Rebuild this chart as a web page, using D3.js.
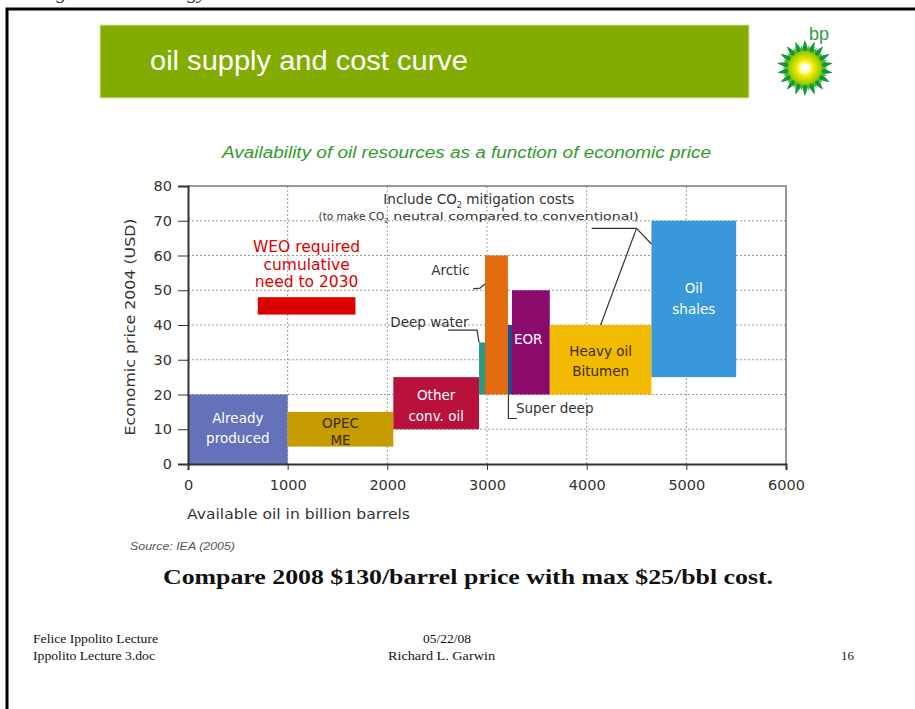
<!DOCTYPE html>
<html>
<head>
<meta charset="utf-8">
<script src="https://cdn.jsdelivr.net/npm/d3@7"></script>
<style>
  body { margin: 0; background: #fff; }
  svg { display: block; }
</style>
</head>
<body>
<div id="chart"></div>
<script>
// data
let categories = ["Already produced", "OPEC ME", "Other conv. oil", "Deep water", "Arctic", "Super deep", "EOR", "Heavy oil Bitumen", "Oil shales", "WEO required"];
let xStart = [0, 1000, 2060, 2920, 2980, 3210, 3250, 3630, 4650, 700];
let xEnd   = [1000, 2060, 2920, 2980, 3210, 3260, 3630, 4650, 5500, 1680];
let yLow   = [0, 5, 10, 20, 20, 20, 20, 20, 25, 43];
let yHigh  = [20, 15, 25, 35, 60, 40, 50, 40, 70, 48];
let xTicks = [0, 1000, 2000, 3000, 4000, 5000, 6000];
let yTicks = [0, 10, 20, 30, 40, 50, 60, 70, 80];

let palette = ["#6571b9", "#c79c00", "#b8123c", "#2b9a89", "#e26b10", "#1f4b90", "#8b0b6c", "#f2ba00", "#3898da", "#dc0000"];

let width = 915, height = 709;
let margin = ({top: 186, right: 129, bottom: 245, left: 188});

let svg = d3.select("#chart").append("svg")
    .attr("width", width).attr("height", height)
    .attr("viewBox", [0, 0, width, height]);

// text helper: fixed width, stretched like the scanned page
let txt = (tx, ty, s, o) => {
    let t = svg.append("text").attr("x", tx).attr("y", ty)
        .attr("font-family", o.family).attr("font-size", o.size).attr("fill", o.fill || "#111")
        .attr("text-anchor", o.anchor || "start").text(s);
    if (o.style) t.attr("font-style", o.style);
    if (o.weight) t.attr("font-weight", o.weight);
    if (o.len) t.attr("textLength", o.len).attr("lengthAdjust", "spacingAndGlyphs");
    return t;
};

// page frame + clipped heading above
txt(30, -1, "ding to World Energy Outlook 2005.", {family: "Liberation Serif", size: 19, style: "italic", fill: "#333", len: 300});
svg.append("path").attr("d", "M7,709V9H915")
    .attr("fill", "none").attr("stroke", "#000").attr("stroke-width", 3);

// slide header
svg.append("rect").attr("x", 100).attr("y", 25).attr("width", 649).attr("height", 73)
    .attr("fill", "#82ad00").attr("stroke", "#d6e6b0").attr("stroke-width", 1);
txt(150, 70, "oil supply and cost curve", {family: "Liberation Sans", size: 27, fill: "#fff", len: 318});

// bp helios
let defs = svg.append("defs");
let grad = defs.append("radialGradient").attr("id", "helios");
[[0, "#ffffff"], [0.25, "#fffde0"], [0.45, "#fff000"], [0.7, "#c8dc00"], [1, "#8cc800"]]
    .forEach(s => grad.append("stop").attr("offset", s[0]).attr("stop-color", s[1]));
let logo = svg.append("g").attr("transform", "translate(805,68)");
let star = (n, r0, r1, rot) => d3.range(n * 2).map(i => {
    let a = (i / (n * 2) + rot) * 2 * Math.PI;
    let r = i % 2 ? r1 : r0;
    return [r * Math.sin(a), -r * Math.cos(a)];
});
logo.append("path").attr("d", d3.line().curve(d3.curveCardinalClosed.tension(0.6))(star(18, 28, 19, 0))).attr("fill", "#129a3a");
logo.append("path").attr("d", d3.line().curve(d3.curveCardinalClosed.tension(0.6))(star(18, 23, 15, 1 / 36))).attr("fill", "#5cb82c");
logo.append("circle").attr("r", 17).attr("fill", "url(#helios)");
txt(809, 40, "bp", {family: "Liberation Sans", size: 18, fill: "#2a9d3c"});

// chart subtitle
txt(222, 158, "Availability of oil resources as a function of economic price",
    {family: "Liberation Sans", size: 16, style: "italic", fill: "#2f9b2a", len: 489});

let x = d3.scaleLinear().domain([0, 6000]).range([margin.left, width - margin.right]);
let y = d3.scaleLinear().domain([0, 80]).range([464, margin.top]);

let font = "'DejaVu Sans', sans-serif";

// grid
let grid = svg.append("g").attr("stroke", "#9a9a9a").attr("stroke-width", 1).attr("stroke-dasharray", "2,2");
grid.selectAll(".gy").data(yTicks.slice(1, -1)).join("line")
    .attr("x1", x(0)).attr("x2", x(6000)).attr("y1", d => y(d)).attr("y2", d => y(d));
grid.selectAll(".gx").data(xTicks.slice(1, -1)).join("line")
    .attr("y1", y(0)).attr("y2", y(80)).attr("x1", d => x(d)).attr("x2", d => x(d));

// frame top / right
svg.append("path").attr("d", `M${x(0)},${y(80)}H${x(6000)}V${y(0)}`)
    .attr("fill", "none").attr("stroke", "#777").attr("stroke-width", 1.5);

// bars
let bars = categories.map((c, i) => ({c, x0: xStart[i], x1: xEnd[i], y0: yLow[i], y1: yHigh[i], color: palette[i]}));
svg.append("g").selectAll("rect").data(bars).join("rect")
    .attr("x", d => x(d.x0)).attr("y", d => y(d.y1))
    .attr("width", d => x(d.x1) - x(d.x0)).attr("height", d => y(d.y0) - y(d.y1))
    .attr("fill", d => d.color);

// axes
let xAxis = g => g.attr("transform", `translate(0,${y(0)})`)
    .call(d3.axisBottom(x).tickValues(xTicks).tickSize(6).tickPadding(10).tickFormat(d3.format("d")))
    .call(g => g.select(".domain").attr("stroke-width", 2));
let yAxis = g => g.attr("transform", `translate(${x(0)},0)`)
    .call(d3.axisLeft(y).tickValues(yTicks).tickSize(10).tickPadding(6))
    .call(g => g.select(".domain").attr("stroke-width", 2));
[svg.append("g").call(xAxis), svg.append("g").call(yAxis)].forEach(g => {
    g.selectAll("text").attr("font-family", font).attr("font-size", 14.5).attr("fill", "#333");
    g.selectAll("line, path").attr("stroke", "#333");
});

svg.append("text").attr("transform", `translate(135,${(y(0) + y(80)) / 2 + 2}) rotate(-90)`)
    .attr("text-anchor", "middle").attr("font-family", font).attr("font-size", 14).attr("fill", "#333")
    .attr("textLength", 217).attr("lengthAdjust", "spacingAndGlyphs")
    .text("Economic price 2004 (USD)");
txt(187, 519, "Available oil in billion barrels", {family: font, size: 14.5, fill: "#333", len: 223});

// labels inside the bars
let inner = [
    {i: 0, lines: ["Already", "produced"], fill: "#fff", dy: -1, gap: 20},
    {i: 1, lines: ["OPEC", "ME"], fill: "#3a2a00", dy: 2, gap: 17},
    {i: 2, lines: ["Other", "conv. oil"], fill: "#fff", dy: 2, gap: 21},
    {i: 7, lines: ["Heavy oil", "Bitumen"], fill: "#3a2a00", dy: 1, gap: 20},
    {i: 8, lines: ["Oil", "shales"], fill: "#fff", dy: 0, gap: 21}
];
inner.forEach(l => {
    let b = bars[l.i];
    let cx = x((b.x0 + b.x1) / 2), cy = y((b.y0 + b.y1) / 2) + l.dy;
    let t = svg.append("text").attr("text-anchor", "middle").attr("font-family", font)
        .attr("font-size", 13.5).attr("fill", l.fill);
    l.lines.forEach((s, k) => t.append("tspan").attr("x", cx)
        .attr("y", cy + (k - (l.lines.length - 1) / 2) * l.gap + 5).text(s));
});
svg.append("text").attr("x", x(3250) + 2).attr("y", y(36) + 5)
    .attr("font-family", font).attr("font-size", 13.5).attr("fill", "#fff").text("EOR");

// WEO label
let weo = svg.append("text").attr("text-anchor", "middle").attr("font-family", font)
    .attr("font-size", 15.5).attr("fill", "#dc0000");
["WEO required", "cumulative", "need to 2030"].forEach((s, k) =>
    weo.append("tspan").attr("x", x(1190)).attr("y", 252 + k * 17.5).text(s));

// callouts
let lbl = (tx, ty, s, size) => svg.append("text").attr("x", tx).attr("y", ty)
    .attr("font-family", font).attr("font-size", size || 13.5).attr("fill", "#333").text(s);
let lead = pts => svg.append("path").attr("d", d3.line()(pts))
    .attr("fill", "none").attr("stroke", "#333").attr("stroke-width", 1.2);

lbl(x(2440), y(55.7) + 5, "Arctic");
lead([[x(2860), y(50.4)], [x(2930), y(50.6)], [x(2980), y(51.8)]]);
lbl(x(2030), y(40.2) + 3, "Deep water");
lead([[x(2610), y(38.5)], [x(2900), y(38.5)], [x(2920), y(35)]]);
lbl(x(3290), y(16) + 5, "Super deep");
lead([[x(3215), y(20)], [x(3215), y(13.1)], [x(3300), y(13.1)]]);

let co2 = lbl(x(1960), y(74.8), "Include CO", 13.5);
co2.append("tspan").attr("dy", 4).attr("font-size", 8).text("2");
co2.append("tspan").attr("dy", -4).text(" mitigation costs");
let co2b = lbl(x(1310), y(70) - 1, "(to make CO", 10.5);
co2b.append("tspan").attr("dy", 3).attr("font-size", 7).text("2");
co2b.append("tspan").attr("dy", -3).attr("textLength", 250).attr("lengthAdjust", "spacingAndGlyphs")
    .text(" neutral compared to conventional)");
lead([[x(3160), y(73.9)], [x(3160), y(72.7)]]);
lead([[x(4050), y(67.8)], [x(4500), y(67.8)], [x(4650), y(63.3)]]);
lead([[x(4500), y(67.8)], [x(4140), y(40)]]);

// source + note + footer
txt(130, 550, "Source: IEA (2005)", {family: "Liberation Sans", size: 10.5, style: "italic", fill: "#555", len: 105});
txt(163, 584, "Compare 2008 $130/barrel price with max $25/bbl cost.",
    {family: "Liberation Serif", size: 20, weight: "bold", fill: "#111", len: 610});

let serif = "Liberation Serif";
txt(33, 643, "Felice Ippolito Lecture", {family: serif, size: 12.5, len: 125});
txt(33, 660, "Ippolito Lecture 3.doc", {family: serif, size: 12.5, len: 122});
txt(423, 643, "05/22/08", {family: serif, size: 12.5, len: 48});
txt(388, 660, "Richard L. Garwin", {family: serif, size: 12.5, len: 107});
txt(841, 660, "16", {family: serif, size: 12.5, len: 13});
</script>
</body>
</html>
